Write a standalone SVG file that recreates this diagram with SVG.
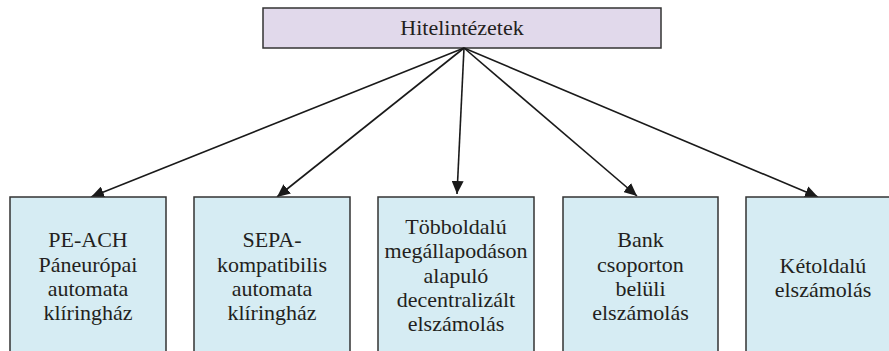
<svg xmlns="http://www.w3.org/2000/svg" width="889" height="351" viewBox="0 0 889 351">
<style>
.top{fill:#e1d9eb;stroke:#333;stroke-width:1.5}
.box{fill:#d6ecf3;stroke:#333;stroke-width:1.5}
.lbl{font-family:"Liberation Serif","Times New Roman",serif;fill:#231f20;text-anchor:middle}
.t1{font-size:22px}
.t2{font-size:22px}
.c{stroke:#1a1a1a;stroke-width:1.6;fill:none;marker-end:url(#ah)}
</style>
<defs>
<marker id="ah" markerUnits="userSpaceOnUse" markerWidth="14" markerHeight="12" refX="13" refY="6" orient="auto">
<path d="M0,0 L13,6 L0,12 Z" fill="#1a1a1a"/>
</marker>
</defs>
<rect width="889" height="351" fill="#fff"/>
<g id="n0">
<rect class="top" x="263" y="8" width="398" height="40"/>
<text class="lbl t1" x="462" y="35">Hitelintézetek</text>
</g>
<g id="connectors">
<path class="c" d="M464,48 L91,197"/>
<path class="c" d="M464,48 L277,197"/>
<path class="c" d="M464,48 L457,194"/>
<path class="c" d="M464,48 L637,196"/>
<path class="c" d="M464,48 L818,197"/>
</g>
<g id="n1">
<rect class="box" x="10" y="197" width="156" height="170"/>
<text class="lbl t2" x="88" y="247">PE-ACH</text>
<text class="lbl t2" x="88" y="271.5">Páneurópai</text>
<text class="lbl t2" x="88" y="296">automata</text>
<text class="lbl t2" x="88" y="320">klíringház</text>
</g>
<g id="n2">
<rect class="box" x="194" y="197" width="156" height="170"/>
<text class="lbl t2" x="272" y="247">SEPA-</text>
<text class="lbl t2" x="272" y="271.5">kompatibilis</text>
<text class="lbl t2" x="272" y="296">automata</text>
<text class="lbl t2" x="272" y="320">klíringház</text>
</g>
<g id="n3">
<rect class="box" x="378" y="197" width="156" height="170"/>
<text class="lbl t2" x="456" y="234">Többoldalú</text>
<text class="lbl t2" x="456" y="258.3">megállapodáson</text>
<text class="lbl t2" x="456" y="282.6">alapuló</text>
<text class="lbl t2" x="456" y="307">decentralizált</text>
<text class="lbl t2" x="456" y="331.3">elszámolás</text>
</g>
<g id="n4">
<rect class="box" x="563" y="197" width="155" height="170"/>
<text class="lbl t2" x="640.5" y="247">Bank</text>
<text class="lbl t2" x="640.5" y="271.5">csoporton</text>
<text class="lbl t2" x="640.5" y="296">belüli</text>
<text class="lbl t2" x="640.5" y="320">elszámolás</text>
</g>
<g id="n5">
<rect class="box" x="746" y="197" width="156" height="170"/>
<text class="lbl t2" x="823" y="273">Kétoldalú</text>
<text class="lbl t2" x="823" y="297">elszámolás</text>
</g>
</svg>
